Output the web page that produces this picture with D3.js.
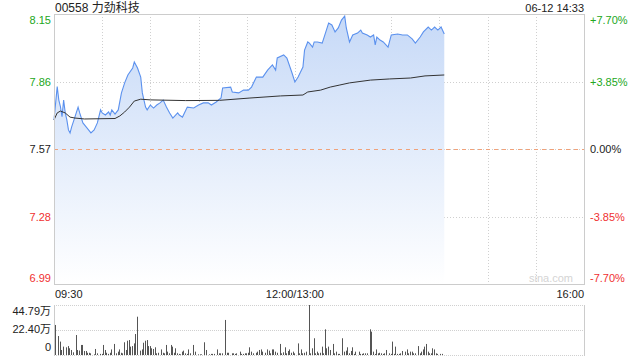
<!DOCTYPE html>
<html>
<head>
<meta charset="utf-8">
<script src="https://cdn.jsdelivr.net/npm/d3@7/dist/d3.min.js"></script>
<style>
  body { margin: 0; background: #fff; }
  svg text { font-family: "Liberation Sans", Arial, "Noto Sans CJK SC", sans-serif; }
</style>
</head>
<body>
<div id="chart"></div>
<script>
// trading minutes since 09:30 (lunch removed, 12:00 == 13:00 == 150)
var priceMin = [0,2,3,4,5,6,7,8,9,10,11,13,15,16,18,20,23,25,27,29,30,32,34,35,36,38,40,42,44,46,49,50,52,54,55,57,58,60,62,64,66,68,70,72,74,77,78,80,83,87,90,93,96,98,101,104,105,110,111,115,118,121,123,126,130,133,136,138,139,143,145,148,150,152,155,156,158,159,161,162,164,167,169,171,173,175,177,179,181,182,184,186,189,191,192,195,197,199,200,201,203,205,208,210,214,217,220,223,225,228,230,233,235,237,239,241,243];
var priceVal = [7.695,7.838,7.780,7.752,7.709,7.780,7.725,7.695,7.652,7.639,7.665,7.707,7.750,7.725,7.682,7.665,7.639,7.652,7.682,7.738,7.725,7.716,7.729,7.716,7.738,7.720,7.738,7.811,7.854,7.888,7.918,7.944,7.918,7.879,7.811,7.750,7.738,7.759,7.746,7.759,7.768,7.780,7.750,7.725,7.703,7.725,7.716,7.707,7.750,7.746,7.759,7.768,7.768,7.759,7.772,7.789,7.832,7.836,7.815,7.811,7.823,7.823,7.836,7.879,7.879,7.909,7.931,7.909,7.961,7.974,7.961,7.901,7.858,7.879,7.922,7.995,8.030,8.025,8.008,8.030,8.030,8.025,8.068,8.111,8.103,8.073,8.090,8.124,8.141,8.090,8.030,8.060,8.068,8.081,8.068,8.060,8.051,8.060,8.017,8.051,8.038,8.030,8.008,8.060,8.064,8.060,8.060,8.043,8.025,8.051,8.073,8.094,8.081,8.094,8.081,8.094,8.064];

var avgMin = [0,2,4,7,10,13,19,38,41,44,47,50,54,60,82,103,122,141,155,158,166,172,178,184,197,209,222,231,243];
var avgVal = [7.695,7.725,7.733,7.725,7.707,7.703,7.699,7.701,7.712,7.729,7.750,7.776,7.784,7.781,7.778,7.779,7.789,7.798,7.802,7.815,7.823,7.836,7.845,7.854,7.866,7.871,7.875,7.884,7.888];

// volume in 万
var volMin = [0,2,3,4,5,7,8,9,10,11,13,14,15,16,17,18,19,20,21,22,24,25,26,28,29,30,31,32,33,34,35,37,38,39,40,41,42,43,44,45,46,47,48,49,50,51,53,54,55,56,57,58,59,60,61,62,63,64,66,67,68,69,70,71,72,73,74,75,76,77,78,79,80,81,82,83,84,86,87,89,90,91,93,94,96,97,98,99,101,102,103,104,106,107,108,110,111,112,113,115,116,117,118,119,120,121,122,123,125,126,127,128,129,131,132,133,134,135,136,137,138,140,141,142,143,144,145,146,147,148,149,151,152,153,154,155,156,158,159,160,161,162,163,164,165,166,167,168,169,170,171,173,174,175,176,177,179,180,181,182,183,184,185,186,187,189,190,191,192,193,194,196,197,198,199,200,201,202,203,204,205,206,208,209,210,211,212,213,214,215,216,218,219,220,221,222,223,224,226,227,228,229,230,231,232,233,234,235,236,237,238,240,241];
var volVal = [26.9,17,12,4.5,7.5,6.9,8,6,4.5,2.4,17.9,4.5,4,9,9,3.6,3.6,2,2,1.5,0.6,5.4,1.5,1,1,9,4.5,2,1,2,5,9.9,1.5,3,5,2,1.5,11.4,4.5,12.8,13.4,7.5,8,10.4,18.8,34.3,3.9,5,11,12.8,13.4,8,8,6,5.4,6.9,1.5,2,5,2,1.5,9,3,1.5,9,7.5,2,6,1.5,1,0.6,3,3.9,1.5,1,5,1.5,9,3,0.6,0.6,0.6,11.4,4.5,0.6,1,1,1,5,1.5,1.5,1.5,31.4,2,2,1.5,1.5,1,1.5,3,1,1,1.5,1.5,2,6.9,3,1.5,2,3,4.5,5,3,2,5,3.9,1.5,5,5,3,2,9.9,1.5,2.4,6.9,1.5,3.6,5,2,3,1.5,10.4,1.5,5,1.5,2,3,44.79,1.5,6,15,1.5,3,1.5,2,7.5,1.5,23,6,7.5,4.5,9.9,1.5,3,1,1,15,3,3.9,6.9,1.5,3.6,6.9,1,3,3,1,1,1.5,1.5,1.5,23,20.9,3,1,5,1.5,2,1.5,1,1.5,4.5,1.5,1,12,1,7.5,1,1,1.5,3.6,3,5,1.5,3,3,1.5,1.5,8,1.5,3,5,7.5,9.9,3,1.5,1.5,6,5,1.5,1,1,1];

var prevClose = 7.57;
var priceTicks = [8.15, 7.86, 7.57, 7.28, 6.99];
var pctTicks = ["+7.70%", "+3.85%", "0.00%", "-3.85%", "-7.70%"];
var timeTicks = ["09:30", "12:00/13:00", "16:00"];
var volTicks = ["44.79万", "22.40万", "0"];
var volMax = 44.79;

var W = 640, H = 360;
var L = 54, R = 584, T = 14, B = 284;
var vT = 305, vB = 355;

var svg = d3.select("#chart").append("svg")
  .attr("width", W).attr("height", H);

var x = d3.scaleLinear().domain([0, 330]).range([L, R]);
var y = d3.scaleLinear().domain([6.99, 8.15]).range([B, T]);
var yv = d3.scaleLinear().domain([0, volMax]).range([vB, vT]);

var grad = svg.append("defs").append("linearGradient")
  .attr("id", "fillGrad").attr("gradientUnits", "userSpaceOnUse")
  .attr("x1", 0).attr("y1", T).attr("x2", 0).attr("y2", B);
grad.append("stop").attr("offset", "0%").attr("stop-color", "#c6d9f7");
grad.append("stop").attr("offset", "100%").attr("stop-color", "#ffffff");

// vertical grid
var vgrid = d3.range(1, 11).map(function (i) { return i * 30; });
svg.selectAll(".vg").data(vgrid).enter().append("line")
  .attr("x1", function (d) { return Math.round(x(d)) + 0.5; })
  .attr("x2", function (d) { return Math.round(x(d)) + 0.5; })
  .attr("y1", T).attr("y2", B)
  .attr("stroke", "#d0d0d0").attr("stroke-dasharray", "1,2");

// horizontal grid
svg.selectAll(".hg").data(priceTicks.slice(1, 4)).enter().append("line")
  .attr("x1", L).attr("x2", R)
  .attr("y1", function (d) { return Math.round(y(d)) + 0.5; })
  .attr("y2", function (d) { return Math.round(y(d)) + 0.5; })
  .attr("stroke", "#cfcfcf").attr("stroke-dasharray", "1,2");

var pts = priceMin.map(function (m, i) { return [m, priceVal[i]]; });

// area
var area = d3.area()
  .x(function (d) { return x(d[0]); })
  .y0(B).y1(function (d) { return y(d[1]); });
svg.append("path").datum(pts).attr("d", area).attr("fill", "url(#fillGrad)");

// prev close dashed
svg.append("line")
  .attr("x1", L).attr("x2", R)
  .attr("y1", Math.round(y(prevClose)) + 0.5).attr("y2", Math.round(y(prevClose)) + 0.5)
  .attr("stroke", "#f0a27a").attr("stroke-dasharray", "4,4");

// price line
var line = d3.line()
  .x(function (d) { return x(d[0]); })
  .y(function (d) { return y(d[1]); });
svg.append("path").datum(pts).attr("d", line)
  .attr("fill", "none").attr("stroke", "#5b91ee").attr("stroke-width", 1.1);

// average line
var avgPts = avgMin.map(function (m, i) { return [m, avgVal[i]]; });
svg.append("path").datum(avgPts).attr("d", line)
  .attr("fill", "none").attr("stroke", "#333").attr("stroke-width", 1);

// border
svg.append("rect").attr("x", L + 0.5).attr("y", T + 0.5)
  .attr("width", R - L).attr("height", B - T)
  .attr("fill", "none").attr("stroke", "#cccccc");

// left labels
var labelColor = function (i) { return i < 2 ? "#22a722" : (i == 2 ? "#222" : "#f03030"); };
var labelY = function (i) {
  var v = y(priceTicks[i]);
  if (i == 0) return v + 10;
  if (i == 4) return v - 2;
  return v + 4;
};
svg.selectAll(".pl").data(priceTicks).enter().append("text")
  .attr("x", 51).attr("y", function (d, i) { return labelY(i); })
  .attr("text-anchor", "end").attr("font-size", 11)
  .attr("fill", function (d, i) { return labelColor(i); })
  .text(function (d) { return d.toFixed(2); });

svg.selectAll(".pr").data(pctTicks).enter().append("text")
  .attr("x", 590).attr("y", function (d, i) { return labelY(i); })
  .attr("font-size", 11)
  .attr("fill", function (d, i) { return labelColor(i); })
  .text(function (d) { return d; });

// title
svg.append("text").attr("x", 55).attr("y", 12).attr("font-size", 12)
  .attr("fill", "#222").text("00558 力劲科技");
svg.append("text").attr("x", 584).attr("y", 12).attr("font-size", 11)
  .attr("text-anchor", "end").attr("fill", "#222").text("06-12 14:33");

// time labels
var tPos = [0, 150, 330];
var tAnchor = ["start", "middle", "end"];
svg.selectAll(".tl").data(timeTicks).enter().append("text")
  .attr("x", function (d, i) { return x(tPos[i]) + (i == 0 ? 1 : 0); })
  .attr("y", 298).attr("font-size", 11)
  .attr("text-anchor", function (d, i) { return tAnchor[i]; })
  .attr("fill", "#222").text(function (d) { return d; });

// watermark
svg.append("text").attr("x", 573).attr("y", 282).attr("font-size", 11)
  .attr("text-anchor", "end").attr("fill", "#d4d4d4").text("sina.com");

// volume panel
[vT, (vT + vB) / 2, vB].forEach(function (v) {
  svg.append("line").attr("x1", L).attr("x2", R)
    .attr("y1", Math.round(v) + 0.5).attr("y2", Math.round(v) + 0.5)
    .attr("stroke", "#d0d0d0").attr("stroke-dasharray", "1,1");
});
svg.append("line").attr("x1", L + 0.5).attr("x2", L + 0.5).attr("y1", vT).attr("y2", vB + 1)
  .attr("stroke", "#cccccc");
svg.append("line").attr("x1", R + 0.5).attr("x2", R + 0.5).attr("y1", vT).attr("y2", vB + 1)
  .attr("stroke", "#cccccc");

svg.selectAll(".vb").data(volMin).enter().append("rect")
  .attr("x", function (d) { return Math.round(x(d)) + 1; })
  .attr("width", 1)
  .attr("y", function (d, i) { return yv(volVal[i]); })
  .attr("height", function (d, i) { return vB - yv(volVal[i]); })
  .attr("fill", "#555");

var vlY = [315, 333, 351];
svg.selectAll(".vl").data(volTicks).enter().append("text")
  .attr("x", 51).attr("y", function (d, i) { return vlY[i]; })
  .attr("text-anchor", "end").attr("font-size", 11)
  .attr("fill", "#222").text(function (d) { return d; });
</script>
</body>
</html>
